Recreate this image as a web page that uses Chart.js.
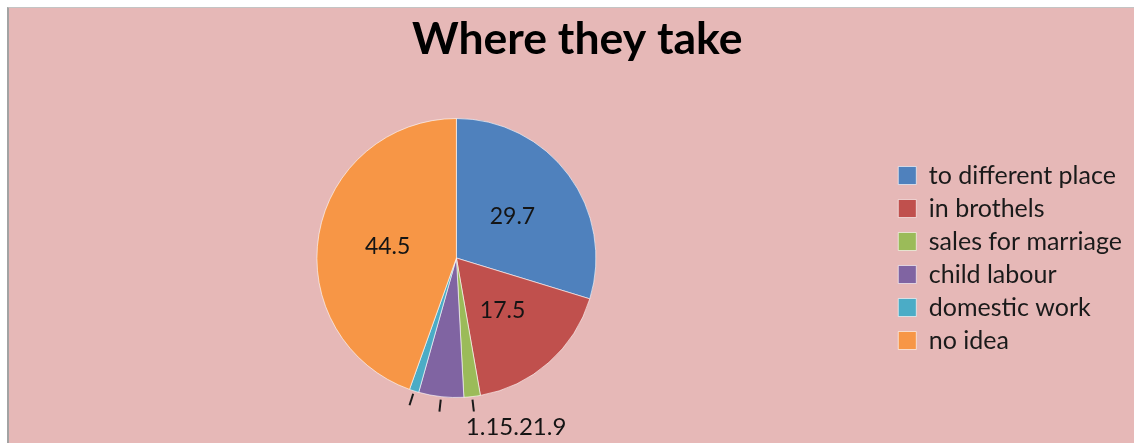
<!DOCTYPE html>
<html>
<head>
<meta charset="utf-8">
<script src="https://cdn.jsdelivr.net/npm/chart.js@4/dist/chart.umd.min.js"></script>
<style>
  html, body { margin: 0; padding: 0; background: #ffffff; }
  #frame {
    position: absolute; left: 7px; top: 7px; right: 0; bottom: 0;
    background: #E6B8B7;
    border-left: 2px solid #a3a3a3;
    border-top: 1px solid #c4c4c4;
  }
  #chart { display: block; }
</style>
</head>
<body>
<div id="frame"><canvas id="chart" width="1125" height="435"></canvas></div>
<script>
const chartTitle = 'Where they take';
const categories = ['to different place', 'in brothels', 'sales for marriage', 'child labour', 'domestic work', 'no idea'];
const shares = [29.7, 17.5, 1.9, 5.2, 1.1, 44.5];
const sliceColors = ['#4F81BD', '#C0504D', '#9BBB59', '#8064A2', '#4BACC6', '#F79646'];

const FONT = 'Lato, "Open Sans", sans-serif';
const SMALL_SLICE = 6; // slices below this share get an outside label with a leader line

// Value labels: inside the slice for large shares, outside with leader lines for small ones
const sliceLabels = {
  id: 'sliceLabels',
  afterDatasetsDraw(chart) {
    const ctx = chart.ctx;
    const meta = chart.getDatasetMeta(0);
    const values = chart.data.datasets[0].data;
    ctx.save();
    ctx.fillStyle = '#141414';
    ctx.textBaseline = 'middle';
    const outside = [];
    meta.data.forEach((arc, i) => {
      const v = values[i];
      const txt = v.toFixed(1);
      if (v >= SMALL_SLICE) {
        const p = arc.tooltipPosition();
        ctx.font = '23px ' + FONT;
        ctx.textAlign = 'center';
        ctx.fillText(txt, p.x, p.y);
      } else {
        const a = (arc.startAngle + arc.endAngle) / 2;
        const r = arc.outerRadius;
        const x0 = arc.x + Math.cos(a) * (r + 3), y0 = arc.y + Math.sin(a) * (r + 3);
        const x1 = arc.x + Math.cos(a) * (r + 15), y1 = arc.y + Math.sin(a) * (r + 15);
        ctx.strokeStyle = '#1a1a1a';
        ctx.lineWidth = 2;
        ctx.beginPath();
        ctx.moveTo(x0, y0);
        ctx.lineTo(x1, y1);
        ctx.stroke();
        outside.push({ txt, x: x1, y: arc.y + r + 30 });
      }
    });
    // the outside labels run together in one row, from left to right
    if (outside.length) {
      outside.sort((p, q) => p.x - q.x);
      let x = outside[outside.length - 1].x - 8;
      ctx.font = '24px ' + FONT;
      ctx.textAlign = 'left';
      outside.forEach(o => {
        ctx.fillText(o.txt, x, o.y);
        x += ctx.measureText(o.txt).width;
      });
    }
    ctx.restore();
  }
};

new Chart(document.getElementById('chart'), {
  type: 'pie',
  data: {
    labels: categories,
    datasets: [{
      data: shares,
      backgroundColor: sliceColors,
      borderColor: 'rgba(255,255,255,0.6)',
      borderWidth: 1
    }]
  },
  options: {
    responsive: false,
    animation: false,
    events: [],
    layout: { padding: { left: 13.5, right: 2, top: 0, bottom: 45 } },
    plugins: {
      title: {
        display: true,
        text: chartTitle,
        color: '#000000',
        font: { family: FONT, size: 44.5, weight: 'bold', lineHeight: 1.2 },
        padding: { top: 4.5, bottom: 52.1 }
      },
      legend: {
        position: 'right',
        align: 'center',
        fullSize: false,
        labels: {
          color: '#1a1a1a',
          font: { family: FONT, size: 25 },
          boxWidth: 18,
          boxHeight: 18,
          padding: 8
        }
      },
      tooltip: { enabled: false }
    }
  },
  plugins: [sliceLabels]
});
</script>
</body>
</html>
